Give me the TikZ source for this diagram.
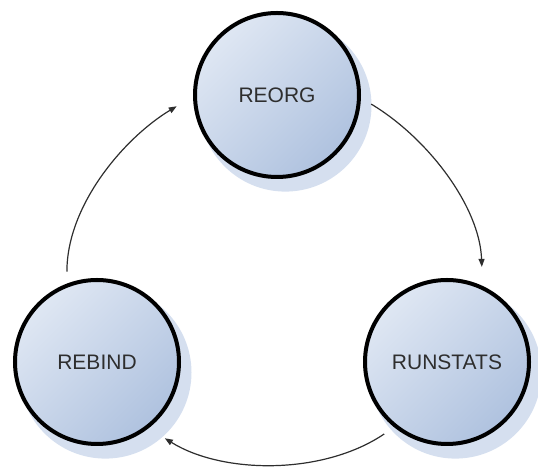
\documentclass[tikz,border=0pt]{standalone}
\usepackage{fontspec}
\setmainfont{Liberation Sans}
\usepackage{tikz}
\usetikzlibrary{shadows, arrows.meta}
\definecolor{phasedark}{HTML}{AFC2DF}
\definecolor{phaselight}{HTML}{DFE7F3}
\definecolor{phaseshadow}{HTML}{D5DFEF}
\definecolor{labelgray}{HTML}{2E2E2E}

\begin{document}
\begin{tikzpicture}[x=1pt, y=1pt, >={Triangle[length=8pt, width=6pt]},
    phase/.style={circle, draw=black, line width=4pt, minimum size=164pt, inner sep=0pt,
      top color=phaselight, bottom color=phasedark, shading angle=45,
      drop shadow={shadow xshift=8pt, shadow yshift=-10pt, shadow scale=1.05, fill=phaseshadow, opacity=1},
      text=labelgray, font=\fontsize{21}{25}\selectfont},
    cyclearrow/.style={->, draw=labelgray, line width=1.2pt, looseness=0.9, shorten <=12pt, shorten >=19pt}]
        \useasboundingbox (0,0) rectangle (538,470);

        \node[phase] (reorg) at (277,375) {REORG};
        \node[phase] (runstats) at (447,108) {RUNSTATS};
        \node[phase] (rebind) at (97,108) {REBIND};

        \draw[cyclearrow] (rebind.111) to[out=90, in=211] (reorg.181);
        \draw[cyclearrow] (reorg.-2) to[out=-31, in=92] (runstats.65);
        \draw[cyclearrow] (runstats.231) to[out=214, in=-32] (rebind.-52);
\end{tikzpicture}
\end{document}
